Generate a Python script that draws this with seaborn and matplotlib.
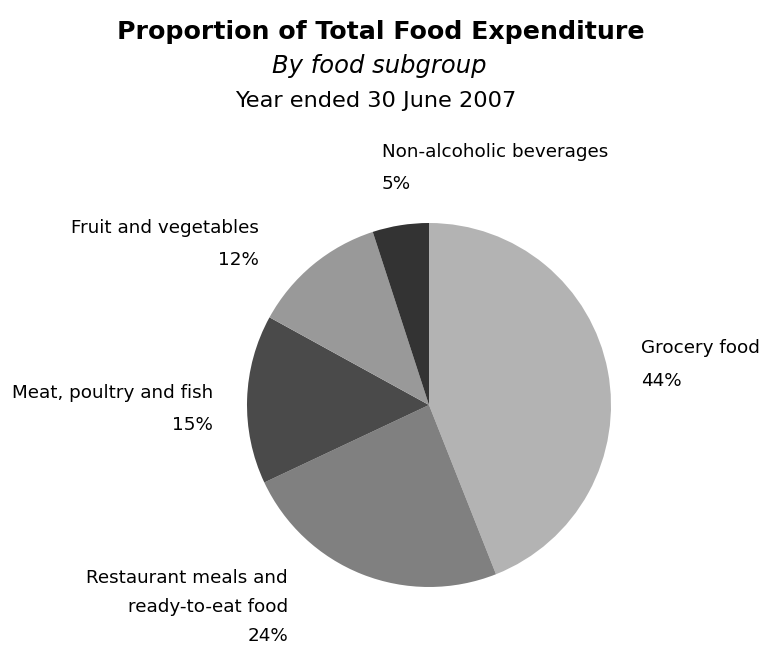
import matplotlib
matplotlib.use("Agg")
import matplotlib.pyplot as plt
import seaborn as sns

# Food expenditure shares, year ended 30 June 2007
categories = ["Grocery food", "Restaurant meals and\nready-to-eat food",
              "Meat, poultry and fish", "Fruit and vegetables",
              "Non-alcoholic beverages"]
shares = [44, 24, 15, 12, 5]
colors = ["#b3b3b3", "#808080", "#4a4a4a", "#999999", "#333333"]

sns.set_theme(style="white")
plt.rcParams["font.family"] = ["DejaVu Sans"]
plt.rcParams["text.color"] = "black"

W, H = 762, 646
fig = plt.figure(figsize=(W / 100, H / 100), dpi=100)
ax = fig.add_axes([0, 0, 1, 1])

cx, cy, r = 429, H - 405, 182
ax.pie(shares, colors=colors, startangle=90, counterclock=False,
       center=(cx, cy), radius=r, frame=True,
       wedgeprops=dict(linewidth=0))
ax.set_xlim(0, W)
ax.set_ylim(0, H)
ax.set_aspect("equal")
ax.axis("off")

# label anchors: x, y of each text line (top to bottom), alignment
label_pos = [
    (641, [348, 381], "left"),
    (288, [578, 607, 636], "right"),
    (213, [393, 425], "right"),
    (259, [228, 260], "right"),
    (382, [152, 184], "left"),
]
lab_font = dict(family="DejaVu Sans", size=13.2, color="black")
for cat, val, (x, ys, ha) in zip(categories, shares, label_pos):
    lines = cat.split("\n") + [f"{val}%"]
    for line, y in zip(lines, ys):
        ax.text(x, H - y, line, ha=ha, va="center", **lab_font)

fig.text(381 / W, 1 - 32 / H, "Proportion of Total Food Expenditure",
         ha="center", va="center", family="DejaVu Sans",
         fontsize=18.2, fontweight="bold")
fig.text(379 / W, 1 - 66 / H, "By food subgroup", ha="center", va="center",
         family="DejaVu Sans", fontsize=17.5, style="italic")
fig.text(376 / W, 1 - 101 / H, "Year ended 30 June 2007", ha="center",
         va="center", family="DejaVu Sans", fontsize=16.2)

fig.savefig("out.png", dpi=100, facecolor="white")
